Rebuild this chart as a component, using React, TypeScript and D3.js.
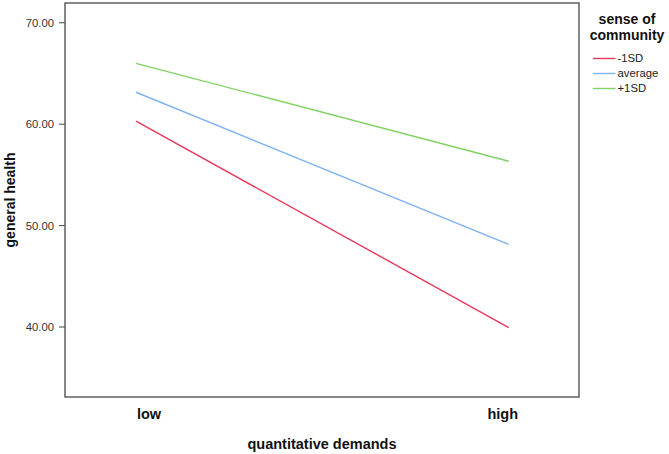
import React from "react";
import * as d3 from "d3";

const categories = ["low", "high"];
const seriesNames = ["-1SD", "average", "+1SD"];
const lowSD = [60.3, 39.95];
const average = [63.15, 48.15];
const highSD = [66.0, 56.35];
const yTicks = [40, 50, 60, 70];
const seriesValues = [lowSD, average, highSD];
const colors = ["#e6395c", "#7fb1f3", "#80d262"];

const W = 669;
const H = 454;
const frame = { left: 65, right: 579, top: 3, bottom: 397 };

export default function App() {
  const x = d3.scalePoint<string>().domain(categories).range([136, 508.7]);
  const y = d3.scaleLinear().domain([33.1, 71.95]).range([frame.bottom, frame.top]);
  const labelOffset = [13, -6];
  const line = d3
    .line<number>()
    .x((_, i) => x(categories[i]) as number)
    .y((d) => y(d));
  const font = "'Liberation Sans', Arial, sans-serif";

  return (
    <div style={{ position: "absolute", left: 0, top: 0 }}>
      <svg width={W} height={H} style={{ display: "block", background: "#fff" }} fontFamily={font}>
        <rect x={0} y={0} width={W} height={H} fill="#fff" />
        {yTicks.map((t) => (
          <g key={t}>
            <line x1={frame.left - 6} x2={frame.left} y1={y(t)} y2={y(t)} stroke="#444" strokeWidth={1} />
            <text x={frame.left - 11} y={y(t)} dy="0.35em" textAnchor="end" fontSize={11.3} fill="#333">
              {t.toFixed(2)}
            </text>
          </g>
        ))}
        {seriesValues.map((vals, i) => (
          <path key={i} d={line(vals) || ""} fill="none" stroke={colors[i]} strokeWidth={1.4} />
        ))}
        <rect
          x={frame.left}
          y={frame.top}
          width={frame.right - frame.left}
          height={frame.bottom - frame.top}
          fill="none"
          stroke="#555"
          strokeWidth={1.4}
        />
        {categories.map((c, i) => (
          <text
            key={c}
            x={(x(c) as number) + labelOffset[i]}
            y={414}
            dy="0.35em"
            textAnchor="middle"
            fontSize={14.5}
            fontWeight="bold"
            fill="#111"
          >
            {c}
          </text>
        ))}
        <text x={322} y={444} dy="0.35em" textAnchor="middle" fontSize={14.5} fontWeight="bold" fill="#111">
          quantitative demands
        </text>
        <text
          transform={`translate(15,${(frame.top + frame.bottom) / 2}) rotate(-90)`}
          textAnchor="middle"
          fontSize={14}
          fontWeight="bold"
          fill="#111"
        >
          general health
        </text>
        <text x={627} y={24} textAnchor="middle" fontSize={14} fontWeight="bold" fill="#111">
          sense of
        </text>
        <text x={627} y={40} textAnchor="middle" fontSize={14} fontWeight="bold" fill="#111">
          community
        </text>
        {seriesNames.map((s, i) => (
          <g key={s} transform={`translate(0,${58.5 + i * 15})`}>
            <line x1={593} x2={615.5} y1={0} y2={0} stroke={colors[i]} strokeWidth={1.4} />
            <text x={617.5} y={0} dy="0.35em" fontSize={11.3} fill="#222">
              {s}
            </text>
          </g>
        ))}
      </svg>
    </div>
  );
}
